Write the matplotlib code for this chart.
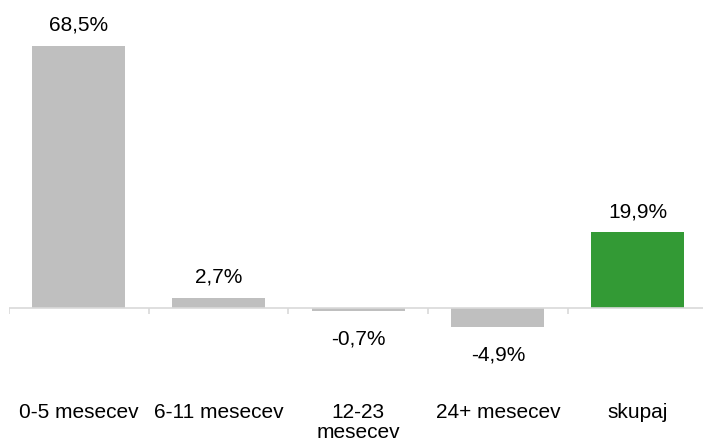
import matplotlib
matplotlib.use('Agg')
import matplotlib.pyplot as plt
import numpy as np

categories = ['0-5 mesecev', '6-11 mesecev', '12-23\nmesecev', '24+ mesecev', 'skupaj']
values = [68.5, 2.7, -0.7, -4.9, 19.9]
value_labels = ['68,5%', '2,7%', '-0,7%', '-4,9%', '19,9%']
colors = ['#bfbfbf', '#bfbfbf', '#bfbfbf', '#bfbfbf', '#339a35']

plt.rcParams['font.family'] = ['Liberation Sans', 'DejaVu Sans']

fig = plt.figure(figsize=(7.03, 4.44), dpi=100)
ax = fig.add_axes([9 / 703, 0, 698.5 / 703, 1])

x = np.arange(len(categories))
ax.bar(x, values, width=0.665, color=colors, zorder=2)

ax.set_xlim(-0.5, len(categories) - 0.5)
ax.set_ylim(-35.43, 80.5)

# zero line with small ticks between categories
ax.axhline(0, color='#d9d9d9', lw=1.2, zorder=3)
bounds = np.arange(len(categories) + 1) - 0.5
ax.vlines(bounds, -1.6, 0, color='#d9d9d9', lw=1.2, zorder=3)

for xi, v, lab in zip(x, values, value_labels):
    if v >= 0:
        ax.annotate(lab, (xi, v), xytext=(0, 10.8), textcoords='offset points',
                    ha='center', va='baseline', fontsize=15)
    else:
        ax.annotate(lab, (xi, v), xytext=(0, -23.8), textcoords='offset points',
                    ha='center', va='baseline', fontsize=15)

# category labels below the chart, one baseline per line
for xi, cat in zip(x, categories):
    for i, line in enumerate(cat.split('\n')):
        ax.text(xi, 1 - (417.7 + i * 20.6) / 444, line, transform=ax.get_xaxis_transform(),
                ha='center', va='baseline', fontsize=15)

for s in ax.spines.values():
    s.set_visible(False)
ax.set_xticks([])
ax.set_yticks([])

fig.savefig('out.png', dpi=100)
